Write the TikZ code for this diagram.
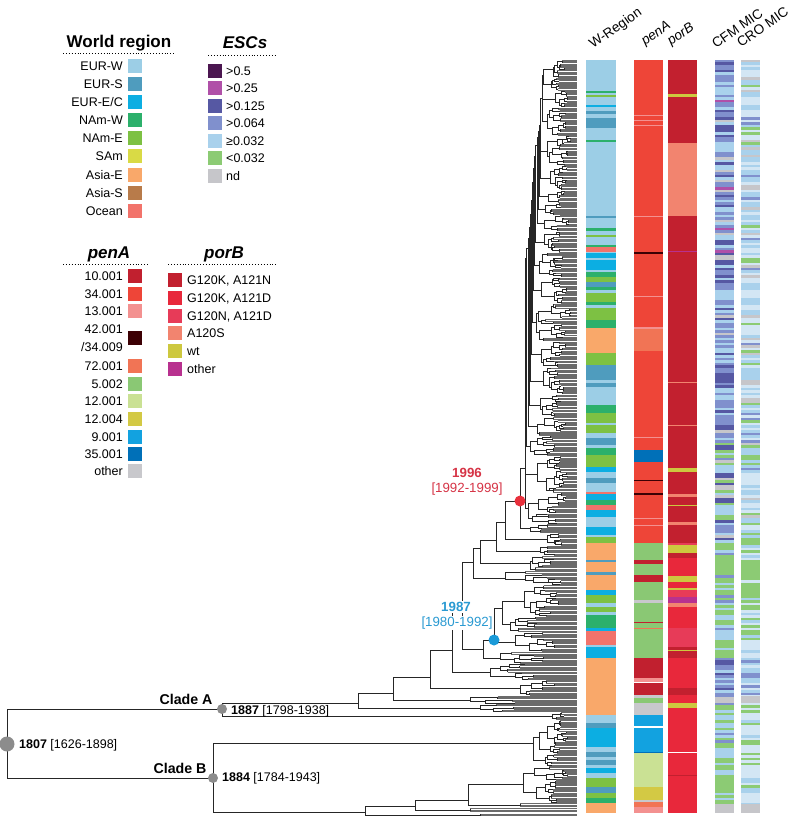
\documentclass[tikz,border=0pt]{standalone}
\usepackage{fontspec}
\setmainfont{Liberation Sans}

% world regions
\definecolor{wEW}{HTML}{9CCEE6}
\definecolor{wES}{HTML}{4F9CBE}
\definecolor{wEE}{HTML}{0CAEE2}
\definecolor{wNW}{HTML}{2CB06B}
\definecolor{wNE}{HTML}{7DC143}
\definecolor{wSA}{HTML}{D9DA45}
\definecolor{wAE}{HTML}{F9A86A}
\definecolor{wAS}{HTML}{B87B4A}
\definecolor{wOC}{HTML}{F2736B}
% ESC MIC classes
\definecolor{mic1}{HTML}{4B1650}
\definecolor{mic2}{HTML}{B050A8}
\definecolor{mic3}{HTML}{5658A3}
\definecolor{mic4}{HTML}{8090CD}
\definecolor{mic5}{HTML}{A9D1EC}
\definecolor{mic6}{HTML}{8CCB74}
\definecolor{mic7}{HTML}{C6C6CA}
\definecolor{mic8}{HTML}{D3E6F4}
% penA alleles
\definecolor{p10}{HTML}{C1202F}
\definecolor{p34}{HTML}{EE4538}
\definecolor{p13}{HTML}{F39190}
\definecolor{p42}{HTML}{3C0004}
\definecolor{p72}{HTML}{F17455}
\definecolor{p5}{HTML}{8AC874}
\definecolor{p12a}{HTML}{CAE194}
\definecolor{p12b}{HTML}{D3C944}
\definecolor{p9}{HTML}{12A2E0}
\definecolor{p35}{HTML}{0070B8}
\definecolor{poth}{HTML}{C8C8CC}
% porB alleles
\definecolor{b1}{HTML}{C2202F}
\definecolor{b2}{HTML}{E8283B}
\definecolor{b3}{HTML}{E73B58}
\definecolor{b4}{HTML}{F2846F}
\definecolor{bwt}{HTML}{CDC83F}
\definecolor{both}{HTML}{B8318F}
% dated nodes
\definecolor{dotgray}{HTML}{8C8C8C}
\definecolor{reddot}{HTML}{E8303C}
\definecolor{bluedot}{HTML}{1A9AD8}
\definecolor{redlbl}{HTML}{D63446}
\definecolor{bluelbl}{HTML}{2A9AD2}

\def\tipend{577}

% internal node: parent line arrives, two children leave
\newcommand\cladenode[5]{%
  \draw[brline] (#4,#2) -| (#1,#3) -- (#5,#3);}

% comb of tips
\newcommand\cladeleaf[3]{%
  \begingroup
  \pgfmathtruncatemacro\cln{max(1,round((#3-#2)/1.25))}%
  \pgfmathsetmacro\clst{(#3-#2)/\cln}%
  \foreach \k in {1,...,\cln}{%
    \draw[tipline] (#1,{#2+(\k-0.5)*\clst}) -- (\tipend,{#2+(\k-0.5)*\clst});
  }%
  \ifnum\cln>1
    \draw[brline] (#1,{#2+0.5*\clst}) -- (#1,{#3-0.5*\clst});
  \fi
  \endgroup}

% random subtree over the tips ytop..ybot, rooted at x
\newcommand\cladesub[3]{%
  \begingroup
  \pgfmathsetmacro\clx{#1}\pgfmathsetmacro\clt{#2}\pgfmathsetmacro\clb{#3}%
  \pgfmathsetmacro\clh{\clb-\clt}%
  \pgfmathsetmacro\clr{\tipend-\clx}%
  \pgfmathtruncatemacro\clf{(\clh<4.5 || \clr<7) ? 1 : 0}%
  \ifnum\clf=1
    \cladeleaf{\clx}{\clt}{\clb}%
  \else
    \pgfmathsetmacro\cls{\clt+\clh*(0.2+0.6*rnd)}%
    \pgfmathsetmacro\clma{(\clt+\cls)/2}%
    \pgfmathsetmacro\clmb{(\cls+\clb)/2}%
    \pgfmathsetmacro\clxa{\clx+\clr*(0.05+0.3*rnd)}%
    \pgfmathsetmacro\clxb{\clx+\clr*(0.05+0.3*rnd)}%
    \draw[brline] (\clxa,\clma) -| (\clx,\clmb) -- (\clxb,\clmb);
    \cladesub{\clxa}{\clt}{\cls}%
    \cladesub{\clxb}{\cls}{\clb}%
  \fi
  \endgroup}

% ladder-like backbone
\newcommand\cladeladder[3]{%
  \begingroup
  \pgfmathsetmacro\clx{#1}\pgfmathsetmacro\clt{#2}\pgfmathsetmacro\clb{#3}%
  \pgfmathtruncatemacro\clf{(\clb-\clt<45) ? 1 : 0}%
  \ifnum\clf=1
    \cladesub{\clx}{\clt}{\clb}%
  \else
    \pgfmathsetmacro\cls{\clb-12-26*rnd}%
    \pgfmathsetmacro\clma{(\clt+\cls)/2}%
    \pgfmathsetmacro\clmb{(\cls+\clb)/2}%
    \pgfmathsetmacro\clxa{\clx+0.5+1.3*rnd}%
    \pgfmathsetmacro\clxb{\clx+3+10*rnd}%
    \draw[brline] (\clxa,\clma) -| (\clx,\clmb) -- (\clxb,\clmb);
    \cladesub{\clxb}{\cls}{\clb}%
    \cladeladder{\clxa}{\clt}{\cls}%
  \fi
  \endgroup}

\begin{document}
\begin{tikzpicture}[
    x=1pt, y=-1pt,
    brline/.style={line width=0.6pt, black!85},
    tipline/.style={line width=0.75pt, black!58},
    lbl/.style={font=\fontsize{12.5}{14}\selectfont, inner sep=0pt,
                text height=9pt, text depth=0pt},
    ttl/.style={font=\fontsize{17}{19}\selectfont\bfseries, inner sep=0pt},
    hdr/.style={font=\fontsize{13.6}{15}\selectfont, inner sep=0pt,
                anchor=base west, rotate=35},
    cladelbl/.style={font=\fontsize{14.2}{16}\selectfont\bfseries, inner sep=0pt},
    datelbl/.style={font=\fontsize{13.3}{15}\selectfont, inner sep=1pt, fill=white},
    swatch/.style={minimum size=14pt, inner sep=0pt},
    dotrule/.style={dotted, line width=0.9pt},
    nodedot/.style={circle, fill=dotgray, inner sep=0pt, minimum size=10pt},
  ]
  \useasboundingbox (0,0) rectangle (794,818);

  % legend: world region
  \node[ttl] (t-region) at (119,43) {World region};
  \draw[dotrule] (63,53) -- (175,53);
  \foreach \lab/\colr [count=\i from 0] in {EUR-W/wEW, EUR-S/wES, EUR-E{/}C/wEE,
      NAm-W/wNW, NAm-E/wNE, SAm/wSA, Asia-E/wAE, Asia-S/wAS, Ocean/wOC}{
    \node[lbl, anchor=east] (r-lab-\i) at (123,{66+18.1*\i}) {\lab};
    \node[swatch, fill=\colr] (r-sw-\i) at (135,{66+18.1*\i}) {};
  }

  % legend: ESCs
  \node[ttl] (t-esc) at (245,43) {\itshape ESCs};
  \draw[dotrule] (208,55) -- (277,55);
  \foreach \lab/\colr [count=\i from 0] in {>0.5/mic1, >0.25/mic2, >0.125/mic3,
      >0.064/mic4, ≥0.032/mic5, <0.032/mic6, nd/mic7}{
    \node[swatch, fill=\colr] (e-sw-\i) at (215,{71+17.5*\i}) {};
    \node[lbl, anchor=west] (e-lab-\i) at (226,{71+17.5*\i}) {\lab};
  }

  % legend: penA
  \node[ttl] (t-pena) at (109,254) {\itshape penA};
  \draw[dotrule] (63,264) -- (148,264);
  \foreach \yy/\lab/\colr [count=\i] in {276/10.001/p10, 294/34.001/p34,
      311/13.001/p13, 366/72.001/p72, 383.5/5.002/p5, 401/12.001/p12a,
      419/12.004/p12b, 436.5/9.001/p9, 454/35.001/p35, 471/other/poth}{
    \node[lbl, anchor=east] (pa-lab-\i) at (123,\yy) {\lab};
    \node[swatch, fill=\colr] (pa-sw-\i) at (135,\yy) {};
  }
  \node[lbl, anchor=east] (pa-lab-x1) at (123,329) {42.001};
  \node[lbl, anchor=east] (pa-lab-x2) at (123,347) {/34.009};
  \node[swatch, fill=p42] (pa-sw-x) at (135,338) {};

  % legend: porB
  \node[ttl] (t-porb) at (224,254) {\itshape porB};
  \draw[dotrule] (168,264) -- (278,264);
  \foreach \lab/\colr [count=\i from 0] in {{G120K, A121N}/b1, {G120K, A121D}/b2,
      {G120N, A121D}/b3, A120S/b4, wt/bwt, other/both}{
    \node[swatch, fill=\colr] (pb-sw-\i) at (175,{280+17.8*\i}) {};
    \node[lbl, anchor=west] (pb-lab-\i) at (187,{280+17.8*\i}) {\lab};
  }

  % tree
  \pgfmathsetseed{11}
  \cladenode{7}{709}{778}{222}{213}
  % clade A backbone
  \cladenode{222}{703}{716}{358}{552} \cladesub{552}{712}{720}
  \cladenode{358}{693}{708}{393}{480} \cladesub{480}{704}{712}
  \cladenode{393}{677}{700}{430}{470} \cladesub{470}{696}{704}
  \cladenode{430}{650}{688}{452}{520} \cladesub{520}{680}{696}
  \cladenode{452}{605}{672}{462}{490} \cladesub{490}{664}{680}
  \cladenode{462}{562}{649}{473}{483}
  \cladenode{483}{640}{658}{494}{500} \cladesub{500}{652}{664}
  \cladenode{494}{608.5}{642}{502}{515}
  \cladesub{502}{585}{632} \cladesub{515}{632}{652}
  \cladenode{473}{548}{578}{480}{505} \cladesub{505}{571}{585}
  \cladenode{480}{540}{563.5}{496}{530} \cladesub{530}{556}{571}
  \cladenode{496}{522}{551}{505}{540} \cladesub{540}{546}{556}
  \cladenode{505}{501}{539.5}{520}{547} \cladesub{547}{533}{546}
  \cladenode{520}{468}{528.5}{525}{530} \cladesub{530}{524}{533}
  \cladeladder{525}{60}{524}
  % clade B
  \cladenode{213}{743}{812}{533}{365} \cladesub{533}{720}{766}
  \cladenode{365}{806}{815}{415}{480} \cladesub{480}{813.5}{816.5}
  \cladenode{415}{800}{810}{468}{470} \cladesub{470}{808}{812}
  \cladenode{468}{784.5}{805}{523}{520}
  \cladesub{523}{766}{803} \cladesub{520}{803}{807}

  % dated nodes
  \node[nodedot, minimum size=15pt] (n-root) at (7,744) {};
  \node[nodedot] (n-a) at (222,709) {};
  \node[nodedot] (n-b) at (213,778) {};
  \node[nodedot, fill=reddot, minimum size=11pt] (n-1996) at (520,501) {};
  \node[nodedot, fill=bluedot, minimum size=11pt] (n-1987) at (494,640) {};
  \node[lbl, anchor=west] (l-root) at (19,744) {\textbf{1807} [1626-1898]};
  \node[lbl, anchor=west] (l-a) at (231,710) {\textbf{1887} [1798-1938]};
  \node[lbl, anchor=west] (l-b) at (222,777) {\textbf{1884} [1784-1943]};
  \node[cladelbl] (c-a) at (186,699) {Clade A};
  \node[cladelbl] (c-b) at (180,768) {Clade B};
  \node[datelbl, text=redlbl, font=\fontsize{13.3}{15}\selectfont\bfseries] (d-1996) at (467,473) {1996};
  \node[datelbl, text=redlbl] (d-1996ci) at (467,489) {[1992-1999]};
  \node[datelbl, text=bluelbl, font=\fontsize{13.3}{15}\selectfont\bfseries] (d-1987) at (456,607) {1987};
  \node[datelbl, text=bluelbl] (d-1987ci) at (457,623) {[1980-1992]};

  % column headers
  \node[hdr] (h-region) at (593,49) {W-Region};
  \node[hdr] (h-pena) at (645,46) {\itshape penA};
  \node[hdr] (h-porb) at (671,46) {\itshape porB};
  \node[hdr] (h-cfm) at (716,49) {CFM MIC};
  \node[hdr] (h-cro) at (741,48) {CRO MIC};

  % W-Region column
  \fill[wEW] (586,60) rectangle (616,813);
  \foreach \ya/\yb/\colr in {91/93/wNW, 95/97/wNE, 105/107/wEE, 111/114/wES,
      118/128/wES, 140/142/wNW, 216/218/wES, 228/231/wNW, 235/237/wNE,
      245/247/wNW, 247/252/wOC, 253/258/wEE, 260/270/wEE, 272/277/wNW,
      277/282/wNE, 282/287/wES, 287/290/wNW, 293/302/wNE, 302/305/wNW,
      308/320/wNE, 320/328/wNW, 328/353/wAE, 353/365/wNE, 365/380/wES,
      383/387/wES, 405/413/wNW, 413/423/wNE, 425/433/wNE, 438/445/wES,
      448/455/wNW, 455/467/wNE, 467/472/wEE, 478/483/wES, 492/494/wOC,
      494/500/wEE, 500/505/wNW, 505/510/wOC, 510/517/wEE, 527/535/wEE,
      537/543/wNE, 543/560/wAE, 560/562/wES, 562/572/wAE, 572/575/wES,
      575/590/wAE, 590/595/wEE, 595/603/wNE, 607/612/wNE, 615/620/wNW,
      620/628/wNW, 628/631/wEE, 631/645/wOC, 647/658/wEE, 658/715/wAE,
      723/728/wES, 728/747/wEE, 752/757/wES, 760/765/wES, 768/773/wEE,
      778/782/wNE, 782/787/wNE, 787/793/wES, 793/798/wNE, 798/803/wNW,
      803/813/wAE}{
    \fill[\colr] (586,\ya) rectangle (616,\yb);
  }

  % penA column
  \fill[p34] (634,60) rectangle (663,813);
  \foreach \ya/\yb/\colr in {115/116.5/p13, 120/121.5/p13, 125/126.5/p13,
      216/217/p13, 252/254/p42, 296/297/p13, 327/328.5/p13, 329/351/p72,
      437/438/p13, 450/462/p35, 480/481.3/p42, 493/494.5/p42, 518/519/p13,
      525/526/p13, 543/560/p5, 560/564/p10, 564/575/p5, 575/582/p10,
      582/600/p5, 600/603/poth, 603/658/p5, 622/623/p10, 628/629/p72,
      658/678/p10, 678/682/p13, 682/683/white, 683/695/p10, 695/698/poth,
      698/703/p5, 703/715/poth, 715/726/p9, 726/728/white, 728/752/p9,
      752/753/p35, 753/787/p12a, 787/800/p12b, 800/802/poth, 802/807/p72,
      807/813/p13}{
    \fill[\colr] (634,\ya) rectangle (663,\yb);
  }

  % porB column
  \fill[b1] (668,60) rectangle (697,813);
  \foreach \ya/\yb/\colr in {94/97/bwt, 143/216/b4, 251/252/both, 382/383/b4,
      425/426/b4, 468/472/bwt, 494/497/b4, 505/506/bwt, 522/525/b4,
      543/545/b3, 545/553/bwt, 558/576/b2, 576/582/bwt, 582/588/b2,
      588/590/bwt, 590/597/b3, 597/603/both, 603/607/b4, 607/628/b2,
      628/647/b3, 650/651/bwt, 658/688/b2, 695/703/b2, 703/708/bwt,
      708/752/b2, 752/753/white, 753/813/b2, 775/776/b1}{
    \fill[\colr] (668,\ya) rectangle (697,\yb);
  }

  % MIC columns
  \pgfmathsetseed{5}
  \fill[mic5] (715,60) rectangle (734,813);
  \fill[mic8] (741,60) rectangle (760,813);
  \foreach \yy in {60,62.5,...,810.5}{
    \pgfmathsetmacro\rr{rnd}
    \pgfmathtruncatemacro\ci{\yy<405 ? (\rr<0.22 ? 3 : (\rr<0.55 ? 4 : (\rr<0.83 ? 5 : (\rr<0.94 ? 7 : 2)))) : (\yy<540 ? (\rr<0.15 ? 3 : (\rr<0.42 ? 4 : (\rr<0.72 ? 5 : (\rr<0.88 ? 6 : 7)))) : (\yy<603 ? (\rr<0.7 ? 6 : (\rr<0.85 ? 4 : 5)) : (\yy<656 ? (\rr<0.5 ? 6 : (\rr<0.9 ? 5 : 4)) : (\yy<696 ? (\rr<0.5 ? 4 : (\rr<0.8 ? 3 : 5)) : (\rr<0.42 ? 6 : (\rr<0.92 ? 5 : 4))))))}
    \fill[mic\ci] (715,\yy) rectangle (734,\yy+2.5);
    \pgfmathsetmacro\rr{rnd}
    \pgfmathtruncatemacro\ci{\yy<405 ? (\rr<0.4 ? 5 : (\rr<0.72 ? 8 : (\rr<0.82 ? 4 : (\rr<0.93 ? 7 : 6)))) : (\yy<540 ? (\rr<0.35 ? 8 : (\rr<0.62 ? 5 : (\rr<0.8 ? 6 : (\rr<0.9 ? 7 : 4)))) : (\yy<603 ? (\rr<0.62 ? 6 : (\rr<0.85 ? 8 : 5)) : (\yy<656 ? (\rr<0.5 ? 6 : (\rr<0.9 ? 8 : 5)) : (\yy<696 ? (\rr<0.4 ? 5 : (\rr<0.8 ? 8 : 4)) : (\rr<0.3 ? 6 : (\rr<0.8 ? 8 : 5))))))}
    \fill[mic\ci] (741,\yy) rectangle (760,\yy+2.5);
  }
  \fill[mic7] (715,697) rectangle (734,703);
  \fill[mic7] (741,696) rectangle (760,703);
  \fill[mic7] (715,804) rectangle (734,813);
  \fill[mic7] (741,804) rectangle (760,813);
\end{tikzpicture}
\end{document}
